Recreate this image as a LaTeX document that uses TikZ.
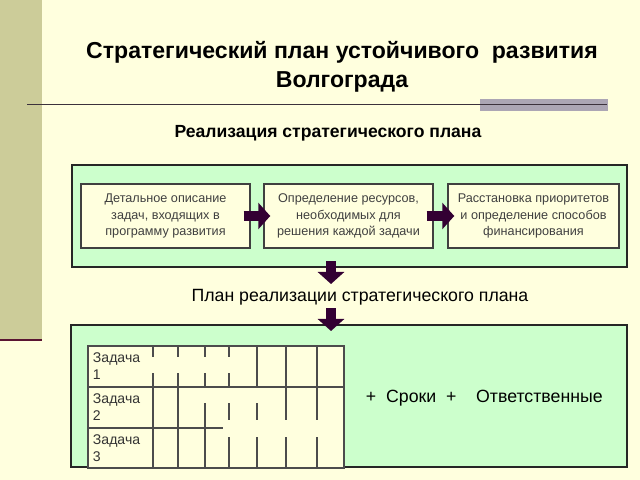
\documentclass[tikz,border=0pt]{standalone}
\usepackage{fontspec}
\setmainfont{Liberation Sans}
\usetikzlibrary{arrows.meta}
\definecolor{slidebg}{RGB}{255,255,222}
\definecolor{mint}{RGB}{204,255,204}
\definecolor{khaki}{RGB}{204,204,153}
\definecolor{plum}{RGB}{51,0,51}
\definecolor{rule}{RGB}{60,50,60}
\definecolor{band}{RGB}{172,166,180}
\begin{document}
\begin{tikzpicture}[x=0.025cm,y=-0.025cm,
  panel/.style={draw=black!85,line width=1pt,fill=mint},
  stepbox/.style={draw=black!75,line width=1pt,fill=slidebg,minimum height=1.6cm,align=center,font=\fontsize{9}{11.5}\selectfont,text=black!75},
  fat/.style={draw=plum,line width=0.25cm,-{Triangle[length=0.3cm,width=0.65cm]}},
  grid/.style={draw=black!70,line width=0.8pt},
  task/.style={anchor=west,align=left,font=\fontsize{10}{12.5}\selectfont,text=black!80}]
% slide background
\fill[slidebg] (0,0) rectangle (640,480);
\useasboundingbox (0,0) rectangle (640,480);
\fill[khaki] (0,0) rectangle (42,340);
\draw[draw={rgb,255:red,90;green,20;blue,50},line width=1.5pt] (0,340) -- (42,340);
\fill[band] (480,99) rectangle (608,111);
\draw[rule,line width=1pt] (27,104.5) -- (607,104.5);
% titles
\node[font=\bfseries\fontsize{16.4}{20.5}\selectfont,align=center] (title) at (342,67) {Стратегический план устойчивого\ \ развития\\Волгограда};
\node[font=\bfseries\fontsize{12.5}{14}\selectfont] (sub) at (328,133) {Реализация стратегического плана};
% stage of realisation
\node[panel,minimum width=13.875cm,minimum height=2.55cm] (stage) at (349.5,216) {};
\node[stepbox,minimum width=4.225cm] (s1) at (165.5,216) {Детальное описание\\задач, входящих в\\программу развития};
\node[stepbox,minimum width=4.225cm] (s2) at (348.5,216) {Определение ресурсов,\\необходимых для\\решения каждой задачи};
\node[stepbox,minimum width=4.275cm] (s3) at (533.5,216) {Расстановка приоритетов\\и определение способов\\финансирования};
\draw[fat,shorten <=-0.175cm,shorten >=-0.175cm] (s1.east) -- (s2.west);
\draw[fat,shorten <=-0.175cm,shorten >=-0.175cm] (s2.east) -- (s3.west);
\coordinate (d1) at (331,261); \coordinate (d2) at (331,284);
\draw[fat] (d1) -- (d2);
\node[font=\fontsize{12.6}{15}\selectfont] (plan) at (360,297) {План реализации стратегического плана};
\node[panel,minimum width=13.9cm,minimum height=3.55cm] (tasks) at (349,396) {};
\coordinate (d3) at (331,308); \coordinate (d4) at (331,331);
\draw[fat] (d3) -- (d4);
% task table
\fill[slidebg] (88,346) rectangle (344,468);
\draw[grid] (88,346) rectangle (344,468) (88,387) -- (344,387) (88,428) -- (223,428);
\foreach \x/\ya/\yb in {153/346/357,153/373/468,178/346/357,178/373/468,
  205/346/357,205/373/387,205/403/468,229/346/357,229/373/387,229/403/420,229/437/468,
  257/346/387,257/403/420,257/437/468,286/346/420,286/437/468,317/346/420,317/437/468}
  \draw[grid] (\x,\ya) -- (\x,\yb);
\node[task] (t1) at (88,366) {Задача\\1};
\node[task] (t2) at (88,407) {Задача\\2};
\node[task] (t3) at (88,448) {Задача\\3};
\node[font=\fontsize{12.6}{15}\selectfont,anchor=west] (terms) at (361,398) {+\ \ Сроки\ \ +\ \ \ \ Ответственные};
\end{tikzpicture}
\end{document}
